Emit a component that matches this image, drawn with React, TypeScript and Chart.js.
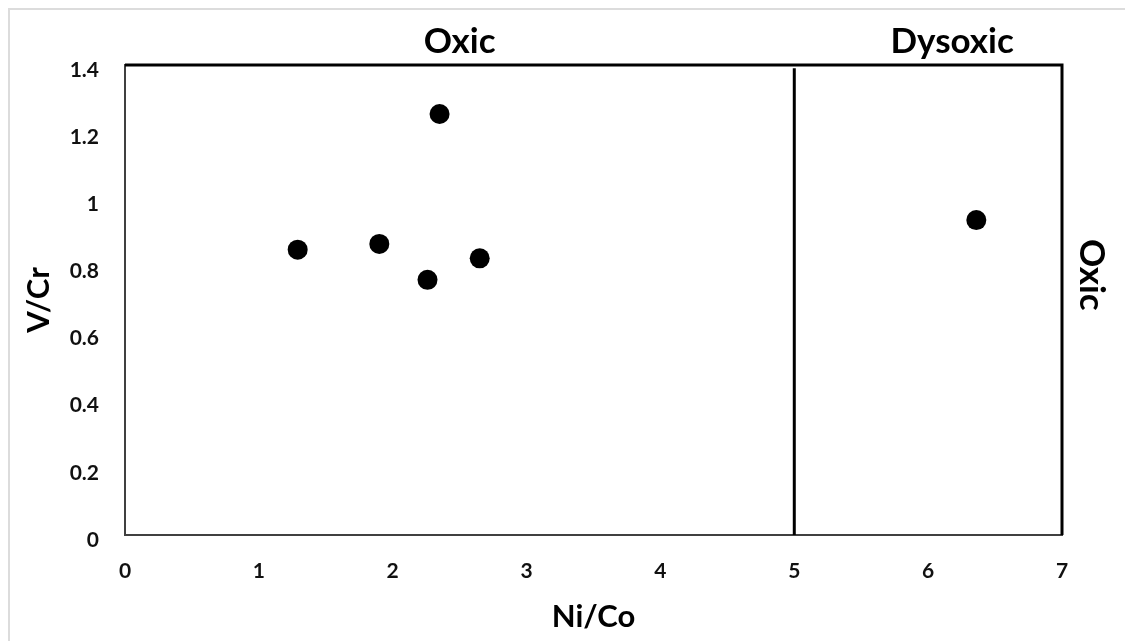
import React, { useEffect, useRef } from "react";
import { Chart, registerables } from "chart.js";

Chart.register(...registerables);

// ---- data ----
const niCo = [1.29, 1.9, 2.35, 2.26, 2.65, 6.36];
const vCr = [0.85, 0.867, 1.254, 0.76, 0.824, 0.938];
const xMin = 0;
const xMax = 7;
const yMin = 0;
const yMax = 1.4;
const xStep = 1;
const yStep = 0.2;
const boundaryNiCo = 5;
const zoneLabels = ["Oxic", "Dysoxic"];
const zoneCenters = [2.5, 6.18];
const sideLabel = "Oxic";
const sideLabelAt = 0.775;
const xTitle = "Ni/Co";
const yTitle = "V/Cr";

const FONT = "Lato, 'Open Sans', sans-serif";

const overlayPlugin = {
  id: "overlay",
  beforeDraw(chart: any) {
    const ctx = chart.ctx;
    ctx.save();
    ctx.strokeStyle = "#dcdcdc";
    ctx.lineWidth = 2;
    ctx.beginPath();
    ctx.moveTo(9, chart.height);
    ctx.lineTo(9, 9);
    ctx.lineTo(chart.width, 9);
    ctx.stroke();
    ctx.restore();
  },
  afterDraw(chart: any) {
    const { ctx, chartArea } = chart;
    const x = chart.scales.x;
    const y = chart.scales.y;
    ctx.save();
    ctx.fillStyle = "#000";
    ctx.font = `bold 35px ${FONT}`;
    ctx.textAlign = "center";
    ctx.textBaseline = "alphabetic";
    zoneLabels.forEach((t, i) => {
      ctx.fillText(t, x.getPixelForValue(zoneCenters[i]), chartArea.top - 12);
    });
    ctx.translate(chartArea.right + 18, y.getPixelForValue(sideLabelAt));
    ctx.rotate(Math.PI / 2);
    ctx.fillText(sideLabel, 0, 0);
    ctx.restore();
  },
};

export default function App() {
  const ref = useRef<HTMLCanvasElement | null>(null);

  useEffect(() => {
    if (!ref.current) return;
    const points = niCo.map((v, i) => ({ x: v, y: vCr[i] }));
    const chart = new Chart(ref.current, {
      type: "scatter",
      data: {
        datasets: [
          {
            data: points,
            backgroundColor: "#000",
            borderWidth: 0,
            pointRadius: 10,
          },
          {
            data: [
              { x: xMin, y: yMax },
              { x: xMax, y: yMax },
              { x: xMax, y: yMin },
            ],
            showLine: true,
            borderColor: "#000",
            borderWidth: 3,
            pointRadius: 0,
            clip: false,
          } as any,
          {
            data: [
              { x: boundaryNiCo, y: yMin },
              { x: boundaryNiCo, y: yMax - 0.01 },
            ],
            showLine: true,
            borderColor: "#000",
            borderWidth: 3,
            pointRadius: 0,
            clip: false,
          } as any,
        ],
      },
      options: {
        responsive: false,
        animation: false,
        events: [],
        layout: { padding: { top: 65, right: 63, left: 0, bottom: 0 } },
        plugins: { legend: { display: false }, tooltip: { enabled: false } },
        scales: {
          x: {
            type: "linear",
            min: xMin,
            max: xMax,
            afterFit(scale: any) {
              scale.height = 106;
            },
            grid: { display: false, drawTicks: false },
            border: { display: true, color: "#404040", width: 2 },
            ticks: {
              stepSize: xStep,
              padding: 24,
              color: "#111",
              font: { family: FONT, size: 21, weight: "bold", lineHeight: 1.2 },
            },
            title: {
              display: true,
              text: xTitle,
              color: "#000",
              padding: { top: 0, bottom: 5 },
              font: { family: FONT, size: 31, weight: "bold", lineHeight: 1.2 },
            },
          },
          y: {
            type: "linear",
            min: yMin,
            max: yMax,
            afterFit(scale: any) {
              scale.width = 125;
            },
            grid: { display: false, drawTicks: false },
            border: { display: true, color: "#404040", width: 2 },
            ticks: {
              stepSize: yStep,
              padding: 26,
              labelOffset: 5,
              color: "#111",
              font: { family: FONT, size: 21, weight: "bold", lineHeight: 1.2 },
              callback: (v: any) => String(Number(Number(v).toFixed(1))),
            },
            title: {
              display: true,
              text: yTitle,
              color: "#000",
              padding: { top: 20, bottom: 0 },
              font: { family: FONT, size: 31, weight: "bold", lineHeight: 1.2 },
            },
          },
        },
      },
      plugins: [overlayPlugin],
    });
    return () => chart.destroy();
  }, []);

  return (
    <div style={{ position: "fixed", left: 0, top: 0, width: 1125, height: 641, background: "#fff" }}>
      <canvas ref={ref} width={1125} height={641} />
    </div>
  );
}
